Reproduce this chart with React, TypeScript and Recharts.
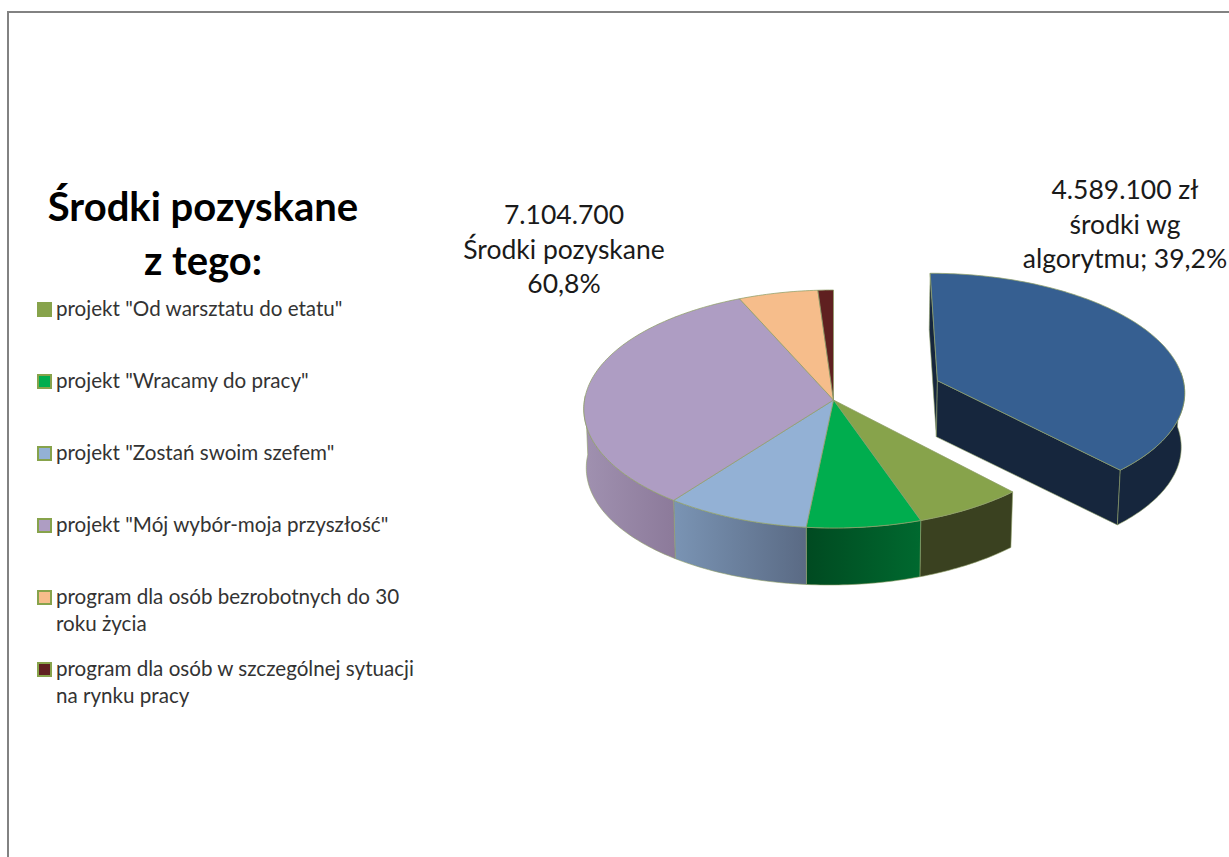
import React from 'react';
import { PieChart, Pie, Legend } from 'recharts';

const sliceNames = [
  'środki wg algorytmu',
  'projekt "Od warsztatu do etatu"',
  'projekt "Wracamy do pracy"',
  'projekt "Zostań swoim szefem"',
  'projekt "Mój wybór-moja przyszłość"',
  'program dla osób bezrobotnych do 30 roku życia',
  'program dla osób w szczególnej sytuacji na rynku pracy',
];
const sliceValues = [4589100, 788000, 807000, 999000, 3744000, 641000, 125700];
const sliceColors = ['#365f91', '#87a34b', '#00ad4e', '#93b1d5', '#ae9dc3', '#f6bd8b', '#5f2020'];
const wallFrom = ['#16263d', '#3a4120', '#00692f', '#7a94b4', '#a091b0', '#c49670', '#4a1818'];
const wallTo = ['#16263d', '#3a4120', '#004a21', '#5a6a84', '#8c7a9a', '#c49670', '#4a1818'];

const blueLabel = ['4.589.100 zł', 'środki wg', 'algorytmu; 39,2%'];
const fundedLabel = ['7.104.700', 'Środki pozyskane', '60,8%'];
const titleLines = ['Środki pozyskane', 'z tego:'];

const data = sliceNames.map((name, i) => ({ name, value: sliceValues[i], fill: sliceColors[i] }));

const EDGE = '#8f9f68';
const RAD = Math.PI / 180;
const TILT = 118.3;
const PERSP = 0.0756;
const EXPLODE = 113;
const FONT = 'Lato, "Open Sans", sans-serif';

// Excel's 3D view squeezes the angles a little on the right hand side
const warp = (t: number) => t - 2.3 * (1 - Math.cos(t * RAD));

const Slice3D = (props: any) => {
  const { cx, cy, outerRadius: R, startAngle, endAngle, name, fill } = props;
  const idx = sliceNames.indexOf(name);
  const t1 = warp(90 - startAngle);
  const t2 = warp(90 - endAngle);
  const mid = (t1 + t2) / 2;
  const off = idx === 0 ? EXPLODE : 0;
  const dX = off * Math.sin(mid * RAD);
  const dY = off * Math.cos(mid * RAD);

  const project = (X: number, Y: number) => {
    const s = 1 / (1 + (PERSP * Y) / R);
    return [cx + X * s, cy - TILT * (Y / R) * s];
  };
  const rim = (t: number) => project(dX + R * Math.sin(t * RAD), dY + R * Math.cos(t * RAD));
  const apex = project(dX, dY);
  const lower = (p: number[]) => [cx + (p[0] - cx) * 0.99, p[1] + 57 - (p[0] - cx) * 0.008];
  const path = (pts: number[][]) =>
    'M' + pts.map((p) => `${p[0].toFixed(2)},${p[1].toFixed(2)}`).join('L') + 'Z';
  const arc = (a: number, b: number) => {
    const pts: number[][] = [];
    const n = Math.max(2, Math.ceil(Math.abs(b - a)));
    for (let i = 0; i <= n; i++) pts.push(rim(a + ((b - a) * i) / n));
    return pts;
  };

  const wa = Math.max(t1, 86);
  const wb = Math.min(t2, 272);
  const wallPts = wb > wa ? arc(wa, wb) : [];
  const gid = `wall-${idx}`;

  return (
    <g>
      <defs>
        <linearGradient id={gid} x1="0" y1="0" x2="1" y2="0">
          <stop offset="0%" stopColor={t1 > 180 ? wallFrom[idx] : wallTo[idx]} />
          <stop offset="100%" stopColor={t1 > 180 ? wallTo[idx] : wallFrom[idx]} />
        </linearGradient>
      </defs>
      {idx === 0 && (
        <>
          <path d={path([apex, rim(t1), lower(rim(t1)), lower(apex)])} fill={wallFrom[0]} stroke={EDGE} strokeWidth={0.6} />
          <path d={path([apex, rim(t2), lower(rim(t2)), lower(apex)])} fill={wallFrom[0]} stroke={EDGE} strokeWidth={0.6} />
        </>
      )}
      {wallPts.length > 0 && (
        <path
          d={path([...wallPts, ...wallPts.slice().reverse().map(lower)])}
          fill={`url(#${gid})`}
          stroke={EDGE}
          strokeWidth={0.6}
        />
      )}
      <path d={path([apex, ...arc(t1, t2)])} fill={fill} stroke={EDGE} strokeWidth={0.75} />
    </g>
  );
};

const renderLabel = (props: any) => {
  const i = sliceNames.indexOf(props.name);
  if (i !== 0 && i !== 4) return null;
  const lines = i === 0 ? blueLabel : fundedLabel;
  const x = i === 0 ? 1125 : 564;
  const y = i === 0 ? 199 : 224;
  return (
    <text x={x} y={y} textAnchor="middle" fill="#1a1a1a" stroke="none" style={{ fontFamily: FONT, fontSize: 26.5 }}>
      {lines.map((line, k) => (
        <tspan key={line} x={x} y={y + k * 34.7}>
          {line}
        </tspan>
      ))}
    </text>
  );
};

const LegendBox = ({ payload }: any) => {
  const rows = (payload || []).filter((p: any) => p.value !== sliceNames[0]);
  return (
    <div style={{ position: 'relative', width: 385, height: 430, fontFamily: FONT, fontSize: 20.6, lineHeight: '27px', color: '#333' }}>
      {rows.map((row: any, i: number) => (
        <div key={row.value} style={{ position: 'absolute', left: 19, top: i * 72, width: 362 }}>
          <span
            style={{
              position: 'absolute',
              left: -19,
              top: 7,
              width: 11,
              height: 11,
              background: row.color,
              border: '2px solid #87a34b',
            }}
          />
          {row.value}
        </div>
      ))}
    </div>
  );
};

export default function App() {
  return (
    <div style={{ position: 'absolute', left: 0, top: 0, width: 1229, height: 857, overflow: 'hidden', background: '#fff' }}>
      <div style={{ position: 'absolute', left: 7, top: 11, width: 1300, height: 900, border: '2px solid #828282' }} />
      <div
        style={{
          position: 'absolute',
          left: 0,
          top: 179,
          width: 406,
          textAlign: 'center',
          fontFamily: FONT,
          fontWeight: 700,
          fontSize: 40,
          lineHeight: '54px',
          color: '#000',
        }}
      >
        {titleLines.map((t) => (
          <div key={t}>{t}</div>
        ))}
      </div>
      <div style={{ position: 'absolute', left: 0, top: 0 }}>
        <PieChart width={1229} height={857} margin={{ top: 0, right: 0, bottom: 0, left: 0 }}>
          <Pie
            data={data}
            dataKey="value"
            nameKey="name"
            cx={833.5}
            cy={400}
            outerRadius={249}
            startAngle={90}
            endAngle={-270}
            shape={Slice3D}
            label={renderLabel}
            labelLine={false}
            isAnimationActive={false}
          />
          <Legend
            layout="vertical"
            itemSorter={null}
            content={<LegendBox />}
            wrapperStyle={{ left: 37, top: 295, width: 385, height: 430, bottom: 'auto' }}
          />
        </PieChart>
      </div>
    </div>
  );
}
